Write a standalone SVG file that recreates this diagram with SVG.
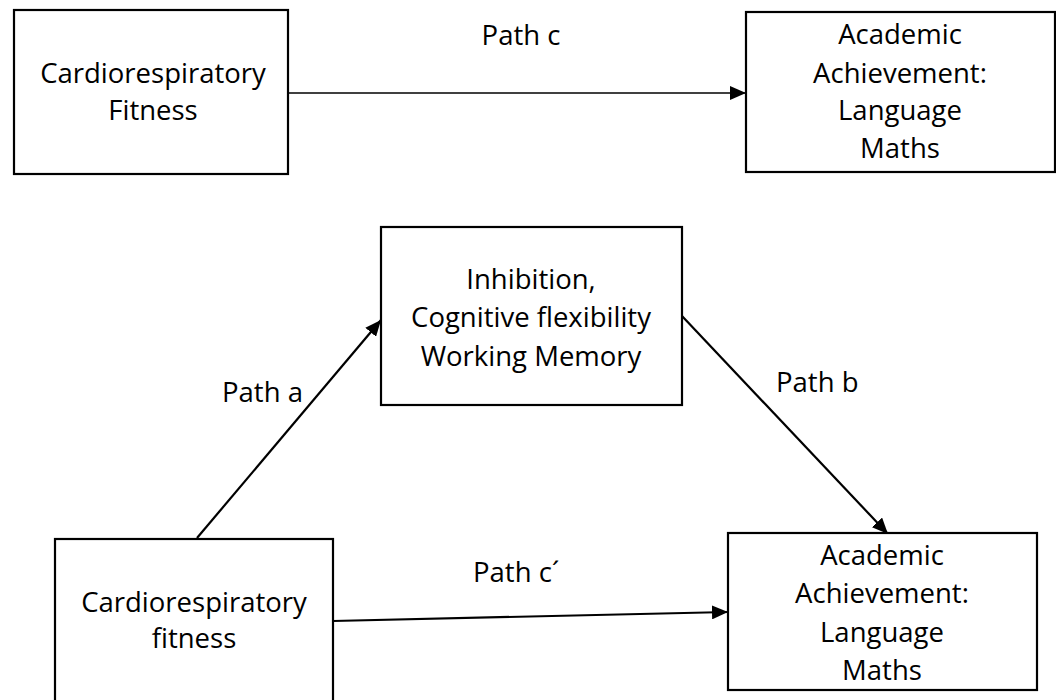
<svg xmlns="http://www.w3.org/2000/svg" width="1056" height="700" viewBox="0 0 1056 700">
<style>
.box{fill:#fff;stroke:#000;stroke-width:2.2}
.t{font-family:"Open Sans","Liberation Sans",sans-serif;font-size:27.5px;fill:#000;text-anchor:middle}
.l{font-family:"Open Sans","Liberation Sans",sans-serif;font-size:27.5px;fill:#000}
.c{stroke:#000;stroke-width:2.2;fill:none;marker-end:url(#ah)}
</style>
<defs>
<marker id="ah" markerUnits="userSpaceOnUse" markerWidth="17" markerHeight="14" refX="16" refY="7" orient="auto">
<path d="M0,0 L16,7 L0,14 Z" fill="#000"/>
</marker>
</defs>
<rect width="1056" height="700" fill="#fff"/>
<g id="connectors">
<line class="c" x1="288" y1="93" x2="746" y2="93" style="stroke-width:1.5"/>
<line class="c" x1="197" y1="538" x2="381" y2="320"/>
<line class="c" x1="682" y1="316" x2="888" y2="534"/>
<line class="c" x1="333" y1="621" x2="728" y2="612"/>
<text class="l" x="521" y="45" text-anchor="middle">Path c</text>
<text class="l" x="222" y="402">Path a</text>
<text class="l" x="776" y="392">Path b</text>
<text class="l" x="473" y="582">Path c´</text>
</g>
<g id="fitness-top">
<rect class="box" x="14" y="10" width="274" height="164"/>
<text class="t" x="153" y="83">Cardiorespiratory</text>
<text class="t" x="153" y="120">Fitness</text>
</g>
<g id="achievement-top">
<rect class="box" x="746" y="12" width="309" height="160"/>
<text class="t" x="900" y="44">Academic</text>
<text class="t" x="900" y="83">Achievement:</text>
<text class="t" x="900" y="120">Language</text>
<text class="t" x="900" y="158">Maths</text>
</g>
<g id="executive">
<rect class="box" x="381" y="227" width="301" height="178"/>
<text class="t" x="531" y="289">Inhibition,</text>
<text class="t" x="531" y="327">Cognitive flexibility</text>
<text class="t" x="531" y="366">Working Memory</text>
</g>
<g id="fitness-bottom">
<rect class="box" x="55" y="539" width="278" height="170"/>
<text class="t" x="194" y="612">Cardiorespiratory</text>
<text class="t" x="194" y="648">fitness</text>
</g>
<g id="achievement-bottom">
<rect class="box" x="728" y="533" width="309" height="157"/>
<text class="t" x="882" y="565">Academic</text>
<text class="t" x="882" y="603">Achievement:</text>
<text class="t" x="882" y="642">Language</text>
<text class="t" x="882" y="680">Maths</text>
</g>
</svg>
